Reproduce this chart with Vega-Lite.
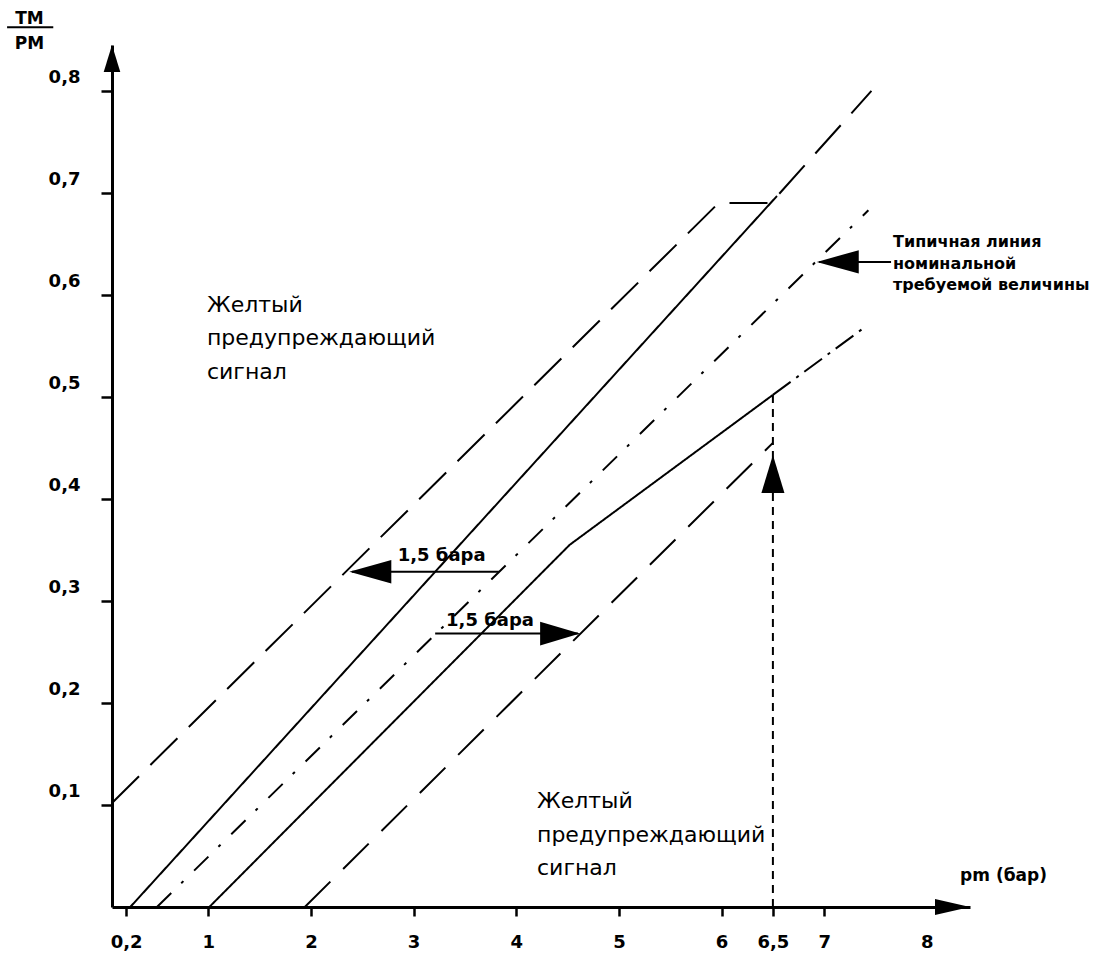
{
  "$schema": "https://vega.github.io/schema/vega-lite/v6.json",
  "width": 858,
  "height": 862,
  "autosize": {"type": "none"},
  "padding": {"left": 112, "top": 45, "right": 134, "bottom": 52},
  "background": "white",
  "config": {"view": {"stroke": null}, "axis": {"grid": false}},
  "datasets": {
    "lines": [
      {"s": "A", "o": 1, "x": 0.062, "y": 0.102},
      {"s": "A", "o": 2, "x": 5.97, "y": 0.69},
      {"s": "A", "o": 3, "x": 6.48, "y": 0.69},
      {"s": "A", "o": 4, "x": 7.46, "y": 0.8},
      {"s": "B", "o": 1, "x": 0.24, "y": 0},
      {"s": "B", "o": 2, "x": 6.54, "y": 0.697},
      {"s": "C", "o": 1, "x": 0.5, "y": 0},
      {"s": "C", "o": 2, "x": 7.43, "y": 0.683},
      {"s": "D", "o": 1, "x": 1.01, "y": 0},
      {"s": "D", "o": 2, "x": 4.52, "y": 0.355},
      {"s": "D", "o": 3, "x": 6.5, "y": 0.502},
      {"s": "Dext", "o": 1, "x": 6.5, "y": 0.502},
      {"s": "Dext", "o": 2, "x": 7.39, "y": 0.568},
      {"s": "E", "o": 1, "x": 1.94, "y": 0},
      {"s": "E", "o": 2, "x": 6.5, "y": 0.455},
      {"s": "V", "o": 1, "x": 6.5, "y": 0},
      {"s": "V", "o": 2, "x": 6.5, "y": 0.502}
    ],
    "heads": [
      {"k": "left", "x": 2.374, "y": 0.3286},
      {"k": "right", "x": 4.621, "y": 0.268},
      {"k": "left", "x": 6.927, "y": 0.6324},
      {"k": "up", "x": 6.5, "y": 0.443},
      {"k": "axisRight", "x": 8.42, "y": 0},
      {"k": "axisUp", "x": 0.062, "y": 0.845}
    ],
    "shafts": [
      {"x": 2.40, "x2": 3.83, "y": 0.3286},
      {"x": 3.21, "x2": 4.6, "y": 0.268},
      {"x": 6.95, "x2": 7.651, "y": 0.6324}
    ],
    "fraction": [
      {"x": -0.96, "x2": -0.51, "y": 0.8624}
    ],
    "yellow": [
      {"t": "Желтый\nпредупреждающий\nсигнал", "x": 0.987, "y": 0.5834},
      {"t": "Желтый\nпредупреждающий\nсигнал", "x": 4.202, "y": 0.097}
    ],
    "typical": [
      {"t": "Типичная линия\nноминальной\nтребуемой величины", "x": 7.67, "y": 0.647}
    ],
    "bars": [
      {"t": "1,5 бара", "x": 3.273, "y": 0.3393},
      {"t": "1,5 бара", "x": 3.744, "y": 0.2754}
    ]
  },
  "encoding": {
    "x": {
      "field": "x",
      "type": "quantitative",
      "scale": {"domain": [0.062, 8.42], "nice": false, "zero": false},
      "axis": {
        "values": [0.2, 1, 2, 3, 4, 5, 6, 6.5, 7, 8],
        "labelExpr": "replace(format(datum.value, datum.value % 1 ? '.1f' : 'd'), '.', ',')",
        "domainColor": "black",
        "domainWidth": 3,
        "tickColor": {"condition": {"test": "datum.value == 8", "value": "transparent"}, "value": "black"},
        "tickSize": 9,
        "tickWidth": 2.5,
        "labelFont": "DejaVu Sans",
        "labelFontWeight": "bold",
        "labelFontSize": 18,
        "labelColor": "black",
        "labelPadding": 17,
        "labelFlush": false,
        "labelOverlap": false,
        "title": "pm (бар)",
        "titleFont": "DejaVu Sans",
        "titleFontWeight": "bold",
        "titleFontSize": 17,
        "titleColor": "black",
        "titleX": 891,
        "titleY": -27,
        "titleAlign": "center",
        "titleBaseline": "alphabetic"
      }
    },
    "y": {
      "field": "y",
      "type": "quantitative",
      "scale": {"domain": [0, 0.845], "nice": false, "zero": false},
      "axis": {
        "values": [0.1, 0.2, 0.3, 0.4, 0.5, 0.6, 0.7, 0.8],
        "labelExpr": "replace(format(datum.value, '.1f'), '.', ',')",
        "domainColor": "black",
        "domainWidth": 3,
        "tickColor": "black",
        "tickSize": 11,
        "tickWidth": 2.5,
        "labelFont": "DejaVu Sans",
        "labelFontWeight": "bold",
        "labelFontSize": 18,
        "labelColor": "black",
        "labelPadding": 21,
        "labelOffset": -13,
        "labelAlign": "right",
        "labelBaseline": "middle",
        "labelOverlap": false,
        "title": ["ТМ", "РМ"],
        "titleFont": "DejaVu Sans",
        "titleFontWeight": "bold",
        "titleFontSize": 17,
        "titleColor": "black",
        "titleAngle": 0,
        "titleAlign": "center",
        "titleBaseline": "alphabetic",
        "titleX": -83,
        "titleY": -22,
        "titleLineHeight": 25.5
      }
    }
  },
  "layer": [
    {
      "data": {"name": "lines"},
      "mark": {"type": "line", "color": "black"},
      "encoding": {
        "order": {"field": "o", "type": "quantitative"},
        "strokeDash": {
          "field": "s",
          "type": "nominal",
          "scale": {
            "domain": ["A", "B", "C", "D", "Dext", "E", "V"],
            "range": [[38, 16], [1, 0], [20, 14, 3, 15], [1, 0], [22, 7, 3, 7], [36, 18], [8, 6]]
          },
          "legend": null
        },
        "strokeWidth": {
          "field": "s",
          "type": "nominal",
          "scale": {
            "domain": ["A", "B", "C", "D", "Dext", "E", "V"],
            "range": [2, 2, 2, 2, 2.6, 2, 2]
          },
          "legend": null
        }
      }
    },
    {
      "data": {"name": "shafts"},
      "mark": {"type": "rule", "color": "black", "strokeWidth": 2},
      "encoding": {
        "x2": {"field": "x2"}
      }
    },
    {
      "data": {"name": "fraction"},
      "mark": {"type": "rule", "color": "black", "strokeWidth": 2.2},
      "encoding": {
        "x2": {"field": "x2"}
      }
    },
    {
      "data": {"name": "heads"},
      "mark": {"type": "point", "filled": true, "opacity": 1, "color": "black", "size": 1764},
      "encoding": {
        "shape": {
          "field": "k",
          "type": "nominal",
          "scale": {
            "domain": ["left", "right", "up", "axisRight", "axisUp"],
            "range": [
              "M0,0L2,-0.557L2,0.557Z",
              "M0,0L-1.9,-0.57L-1.9,0.57Z",
              "M0,0L-0.55,1.81L0.55,1.81Z",
              "M0,0L-1.667,-0.38L-1.667,0.38Z",
              "M0,0L-0.395,1.286L0.395,1.286Z"
            ]
          },
          "legend": null
        }
      }
    },
    {
      "data": {"name": "yellow"},
      "mark": {"type": "text", "align": "left", "baseline": "alphabetic", "font": "DejaVu Sans", "fontSize": 22, "lineHeight": 33.5, "lineBreak": "\n", "color": "black"},
      "encoding": {"text": {"field": "t"}}
    },
    {
      "data": {"name": "typical"},
      "mark": {"type": "text", "align": "left", "baseline": "alphabetic", "font": "DejaVu Sans", "fontWeight": "bold", "fontSize": 16, "lineHeight": 21.7, "lineBreak": "\n", "color": "black"},
      "encoding": {"text": {"field": "t"}}
    },
    {
      "data": {"name": "bars"},
      "mark": {"type": "text", "align": "center", "baseline": "alphabetic", "font": "DejaVu Sans", "fontWeight": "bold", "fontSize": 18, "color": "black"},
      "encoding": {"text": {"field": "t"}}
    }
  ]
}
